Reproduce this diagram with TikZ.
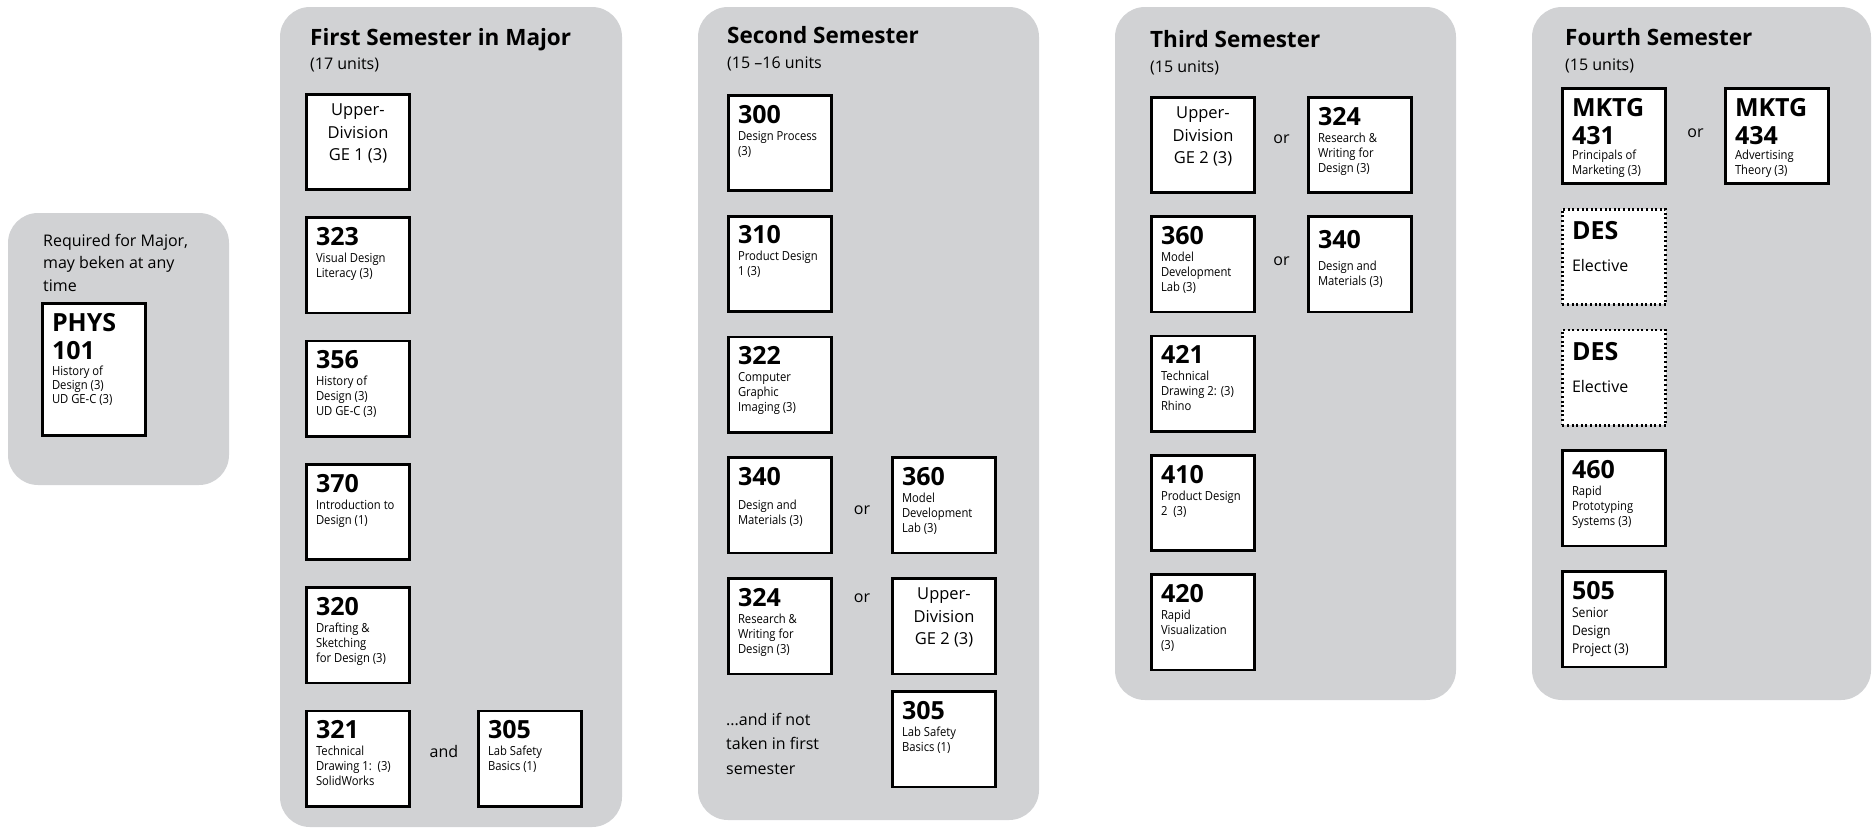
\documentclass[tikz,border=0pt]{standalone}
\usepackage{fontspec}
\setmainfont{Open Sans}
\newfontfamily\descfont[FakeStretch=0.9]{Open Sans}
\usetikzlibrary{positioning,calc}
\definecolor{panelgray}{RGB}{209,210,212}
\newlength\crsh
\setlength\crsh{76pt}
% course box text: [gap]{number}{title lines}
\newcommand{\crs}[3][2pt]{\parbox[c][\crsh][t]{92pt}{\raggedright\leftskip=4pt
  \fontsize{25}{28}\selectfont\bfseries #2\par\vspace{#1}
  \descfont\fontsize{12.5}{15}\selectfont\mdseries #3}}
\newcommand{\gebox}[1]{\parbox[c][\crsh][t]{92pt}{\centering
  \fontsize{16.5}{22.5}\selectfont Upper-\\Division\\GE #1 (3)}}
\newcommand{\desbox}{\parbox[c][\crsh][t]{92pt}{\raggedright\leftskip=4pt\vspace*{3pt}
  \fontsize{25}{28}\selectfont\bfseries DES\par\vspace{12pt}
  \fontsize{16}{20}\selectfont\mdseries Elective}}
\begin{document}
\begin{tikzpicture}[x=1pt,y=-1pt,font=\fontsize{16}{22.5}\selectfont]
  \tikzstyle{panel}=[fill=panelgray,rounded corners=30pt]
  \tikzstyle{course}=[draw,fill=white,line width=2.7pt,minimum width=103pt,minimum height=95.3pt,inner xsep=5.65pt,inner ysep=9.65pt,anchor=north west]
  \tikzstyle{elective}=[course,dash pattern=on 2pt off 2.6pt]
  \tikzstyle{tall}=[minimum height=132.3pt,execute at begin node={\setlength\crsh{113pt}}]
  \tikzstyle{title}=[anchor=base west,inner sep=0pt,font=\fontsize{22.5}{27}\selectfont\bfseries]
  \tikzstyle{units}=[anchor=base west,inner sep=0pt]
  \tikzstyle{note}=[anchor=base west,inner sep=0pt,align=left]
  \tikzstyle{conj}=[inner sep=0pt]

  \useasboundingbox (0,0) rectangle (1874,828);

  % grey columns
  \fill[panel] (8,213) rectangle (229,485);
  \fill[panel] (280,7) rectangle (622,827);
  \fill[panel] (698,7) rectangle (1039,820);
  \fill[panel] (1115,7) rectangle (1456,700);
  \fill[panel] (1532,7) rectangle (1871,700);

  % any time (base = last line)
  \node[note] (anytime) at (43,291) {Required for Major,\\may beken at any\\time};
  \node[course,tall] (phys) at (41,302) {\crs{PHYS\\101}{\fontsize{12.5}{14}\selectfont History of\\Design (3)\\UD GE-C (3)}};

  % first semester
  \node[title] (t1) at (310,45) {First Semester in Major};
  \node[units] (u1) at (310,69) {(17 units)};
  \node[course] (ge1) at (305,93) {\gebox{1}};
  \node[course,below=25.3pt of ge1] (c323) {\crs{323}{Visual Design\\Literacy (3)}};
  \node[course,below=25.3pt of c323] (c356) {\crs{356}{History of\\Design (3)\\UD GE-C (3)}};
  \node[course,below=25.3pt of c356] (c370) {\crs{370}{Introduction to\\Design (1)}};
  \node[course,below=25.3pt of c370] (c320) {\crs{320}{Drafting \&\\Sketching\\for Design (3)}};
  \node[course,below=25.3pt of c320] (c321) {\crs{321}{Technical\\Drawing 1:\ \ (3)\\SolidWorks}};
  \node[course,right=66pt of c321] (c305) {\crs{305}{Lab Safety\\Basics (1)}};
  \node[conj,yshift=7.5pt] (and1) at ($(c321.east)!0.5!(c305.west)$) {and};

  % second semester
  \node[title] (t2) at (727,43) {Second Semester};
  \node[units] (u2) at (727,68) {(15 --16 units};
  \node[course] (c300) at (727,94) {\crs{300}{Design Process\\(3)}};
  \node[course,below=22.8pt of c300] (c310) {\crs{310}{Product Design\\1 (3)}};
  \node[course,below=22.8pt of c310] (c322) {\crs{322}{Computer\\Graphic\\Imaging (3)}};
  \node[course,below=22.8pt of c322] (c340) {\crs[9pt]{340}{Design and\\Materials (3)}};
  \node[course,below=22.8pt of c340] (c324) {\crs{324}{Research \&\\Writing for\\Design (3)}};
  \node[course,right=58pt of c340] (c360) {\crs{360}{Model\\Development\\Lab (3)}};
  \node[course,below=22.8pt of c360] (ge2) {\gebox{2}};
  \node[course,below=15pt of ge2] (c305b) {\crs{305}{Lab Safety\\Basics (1)}};
  \node[conj,yshift=-4.5pt] (or1) at ($(c340.east)!0.5!(c360.west)$) {or};
  \node[conj,yshift=28pt] (or2) at ($(c324.east)!0.5!(ge2.west)$) {or};
  \node[note,font=\fontsize{16}{24.5}\selectfont] (ifnot) at (726,774) {...and if not\\taken in first\\semester};

  % third semester
  \node[title] (t3) at (1150,47) {Third Semester};
  \node[units] (u3) at (1150,72) {(15 units)};
  \node[course] (ge2c) at (1150,96) {\gebox{2}};
  \node[course,below=21.3pt of ge2c] (c360c) {\crs{360}{Model\\Development\\Lab (3)}};
  \node[course,below=21.3pt of c360c] (c421) {\crs{421}{Technical\\Drawing 2: (3)\\Rhino}};
  \node[course,below=21.3pt of c421] (c410) {\crs{410}{Product Design\\2\ \ (3)}};
  \node[course,below=21.3pt of c410] (c420) {\crs{420}{Rapid\\Visualization\\(3)}};
  \node[course,right=51pt of ge2c] (c324c) {\crs{324}{Research \&\\Writing for\\Design (3)}};
  \node[course,right=51pt of c360c] (c340c) {\crs[7pt]{\vspace*{4pt}340}{Design and\\Materials (3)}};
  \node[conj,yshift=6pt] (or3) at ($(ge2c.east)!0.5!(c324c.west)$) {or};
  \node[conj,yshift=3.5pt] (or4) at ($(c360c.east)!0.5!(c340c.west)$) {or};

  % fourth semester
  \node[title] (t4) at (1565,45) {Fourth Semester};
  \node[units] (u4) at (1565,70) {(15 units)};
  \node[course] (m431) at (1561,87) {\crs[0pt]{MKTG\\431}{Principals of\\Marketing (3)}};
  \node[course,right=57pt of m431] (m434) {\crs[0pt]{MKTG\\434}{Advertising\\Theory (3)}};
  \node[elective,below=22.8pt of m431] (des1) {\desbox};
  \node[elective,below=22.8pt of des1] (des2) {\desbox};
  \node[course,below=22.8pt of des2] (c460) {\crs{460}{Rapid\\Prototyping\\Systems (3)}};
  \node[course,below=22.8pt of c460] (c505) {\crs[0pt]{505}{\fontsize{13.5}{18}\selectfont Senior\\Design\\Project (3)}};
  \node[conj,yshift=2.5pt] (or5) at ($(m431.east)!0.5!(m434.west)$) {or};
\end{tikzpicture}
\end{document}
